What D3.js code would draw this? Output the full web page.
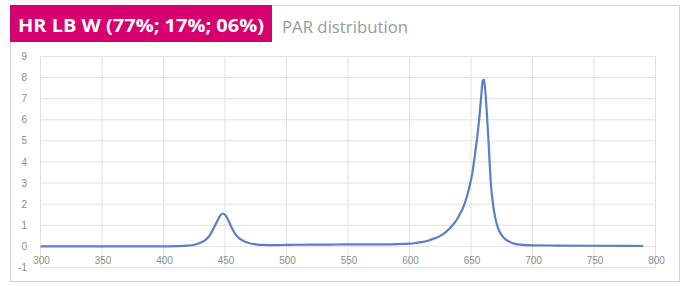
<!DOCTYPE html>
<html>
<head>
<meta charset="utf-8">
<script src="https://cdn.jsdelivr.net/npm/d3@7"></script>
<style>
  body { margin: 0; background: #fff; }
  svg { display: block; }
</style>
</head>
<body>
<div id="chart"></div>
<script>
// spectrum (wavelength nm -> PAR value)
let wavelengths = [300, 320, 340, 360, 380, 400, 410, 420, 425, 430, 435, 438, 441, 444, 446, 448, 450, 452, 454, 456, 458, 461, 465, 470, 475, 480, 490, 500, 520, 540, 560, 580, 590, 600, 605, 610, 615, 620, 625, 630, 635, 640, 645, 648, 651, 653, 655, 657, 658.5, 659.5, 660.5, 661.5, 663, 664.5, 666, 668, 670, 672, 675, 678, 682, 686, 690, 700, 720, 750, 790];
let values = [0, 0, 0, 0, 0, 0, 0.01, 0.04, 0.08, 0.17, 0.35, 0.56, 0.88, 1.24, 1.45, 1.56, 1.5, 1.32, 1.07, 0.82, 0.62, 0.41, 0.26, 0.15, 0.1, 0.07, 0.06, 0.07, 0.08, 0.09, 0.1, 0.1, 0.11, 0.13, 0.16, 0.2, 0.27, 0.37, 0.5, 0.7, 1.0, 1.42, 2.05, 2.65, 3.45, 4.25, 5.15, 6.25, 7.25, 7.85, 7.9, 7.45, 6.2, 4.7, 3.1, 1.95, 1.28, 0.87, 0.52, 0.33, 0.2, 0.12, 0.08, 0.05, 0.04, 0.03, 0.02];

let x_ticks = [300, 350, 400, 450, 500, 550, 600, 650, 700, 750, 800];
let y_ticks = [-1, 0, 1, 2, 3, 4, 5, 6, 7, 8, 9];

let title_tag = "HR LB W (77%; 17%; 06%)";
let subtitle = "PAR distribution";

let width = 686, height = 286;

let svg = d3.select("#chart")
    .append("svg")
    .attr("width", width)
    .attr("height", height);

// outer frame
svg.append("rect")
    .attr("x", 10.5).attr("y", 5.5)
    .attr("width", 669).attr("height", 276)
    .attr("fill", "none")
    .attr("stroke", "#d4d4d4");

// title tag
svg.append("rect")
    .attr("x", 10).attr("y", 5)
    .attr("width", 262).attr("height", 37)
    .attr("fill", "#d6006e");

svg.append("text")
    .attr("x", 18).attr("y", 32)
    .attr("fill", "#fff")
    .style("font-family", "'Open Sans', sans-serif")
    .style("font-weight", "bold")
    .style("font-size", "18px")
    .attr("textLength", 246)
    .attr("lengthAdjust", "spacingAndGlyphs")
    .text(title_tag);

svg.append("text")
    .attr("x", 282).attr("y", 33)
    .attr("fill", "#9a9a9a")
    .style("font-family", "'Open Sans', sans-serif")
    .style("font-size", "16px")
    .attr("textLength", 126)
    .attr("lengthAdjust", "spacingAndGlyphs")
    .text(subtitle);

let x = d3.scaleLinear().domain([300, 800]).range([40.5, 655.5]);
let y = d3.scaleLinear().domain([-1, 9]).range([267.5, 56.5]);

// gridlines
svg.append("g")
    .selectAll("line")
    .data(y_ticks)
    .join("line")
    .attr("x1", x(300)).attr("x2", x(800))
    .attr("y1", d => y(d)).attr("y2", d => y(d))
    .attr("stroke", "#e2e2e2");

svg.append("g")
    .selectAll("line")
    .data(x_ticks)
    .join("line")
    .attr("x1", d => x(d)).attr("x2", d => x(d))
    .attr("y1", y(9)).attr("y2", y(-1))
    .attr("stroke", "#e2e2e2");

// y labels
svg.append("g")
    .selectAll("text")
    .data(y_ticks)
    .join("text")
    .attr("x", 27)
    .attr("y", d => y(d) + 3.5)
    .attr("text-anchor", "end")
    .attr("fill", "#8c8c8c")
    .style("font-family", "'Liberation Sans Narrow', 'Liberation Sans', sans-serif")
    .style("font-size", "10px")
    .text(d => d);

// x labels, sitting between 0 and -1
svg.append("g")
    .selectAll("text")
    .data(x_ticks)
    .join("text")
    .attr("x", d => x(d) + 1)
    .attr("y", y(0) + 18)
    .attr("text-anchor", "middle")
    .attr("fill", "#8c8c8c")
    .style("font-family", "'Liberation Sans Narrow', 'Liberation Sans', sans-serif")
    .style("font-size", "10px")
    .text(d => d);

// spectrum line
let line = d3.line()
    .x((d, i) => x(wavelengths[i]))
    .y(d => y(d))
    .curve(d3.curveMonotoneX);

svg.append("path")
    .datum(values)
    .attr("d", line)
    .attr("fill", "none")
    .attr("stroke", "#5a7fc8")
    .attr("stroke-width", 2.2);
</script>
</body>
</html>
